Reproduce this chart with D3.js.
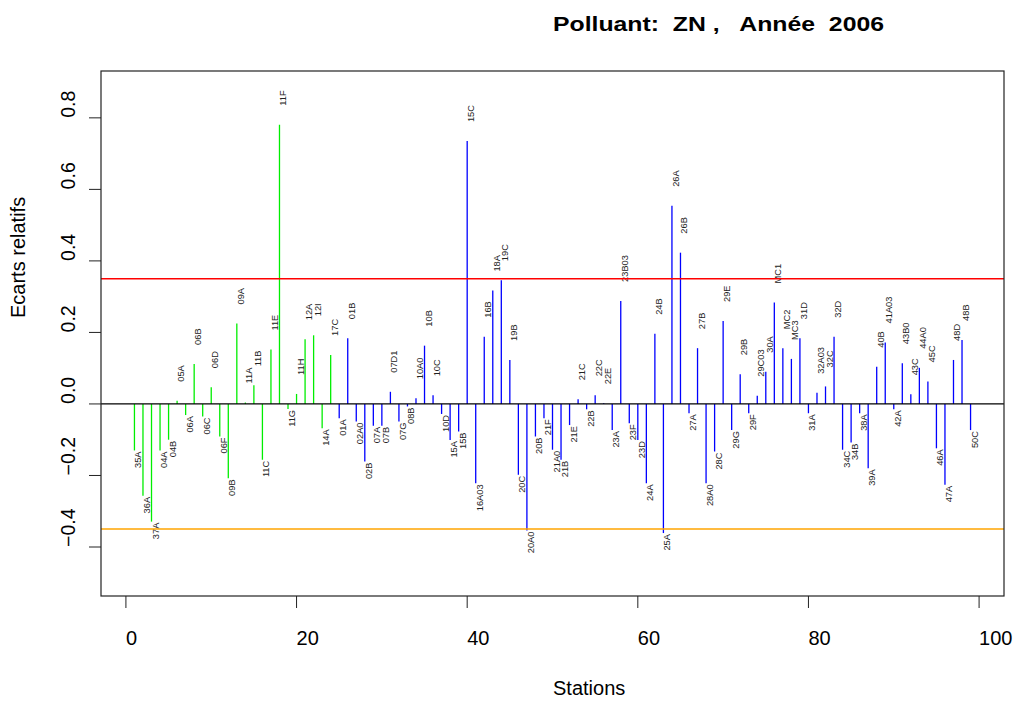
<!DOCTYPE html>
<html>
<head>
<meta charset="utf-8">
<script src="https://cdn.jsdelivr.net/npm/d3@7"></script>
<style>
  body { margin: 0; background: #fff; }
  svg { display: block; font-family: "Liberation Sans", Arial, sans-serif; }
</style>
</head>
<body>
<div id="chart"></div>
<script>
// stations, dans l'ordre du graphique
var stations = ["35A","36A","37A","04A","04B","05A","06A","06B","06C","06D",
  "06F","09B","09A","11A","11B","11C","11E","11F","11G","11H",
  "12A","12I","14A","17C","01A","01B","02A0","02B","07A","07B",
  "07D1","07G","08B","10A0","10B","10C","10D","15A","15B","15C",
  "16A03","16B","18A","19C","19B","20C","20A0","20B","21F","21A0",
  "21B","21E","21C","22B","22C","22E","23A","23B03","23F","23D",
  "24A","24B","25A","26A","26B","27A","27B","28A0","28C","29E",
  "29G","29B","29F","29C03","30A","MC1","MC2","MC3","31D","31A",
  "32A03","32C","32D","34C","34B","38A","39A","40B","41A03","42A",
  "43B0","43C","44A0","45C","46A","47A","48D","48B","50C"];

var ecarts = [-0.130,-0.257,-0.329,-0.130,-0.100,0.009,-0.031,0.112,-0.035,0.047,
  -0.091,-0.208,0.225,0.004,0.052,-0.156,0.152,0.781,-0.014,0.028,
  0.181,0.192,-0.068,0.137,-0.040,0.184,-0.049,-0.161,-0.061,-0.061,
  0.034,-0.049,-0.007,0.016,0.163,0.024,-0.028,-0.101,-0.077,0.735,
  -0.222,0.188,0.317,0.346,0.123,-0.198,-0.354,-0.091,-0.040,-0.128,
  -0.156,-0.059,0.013,-0.015,0.024,0.002,-0.073,0.288,-0.054,-0.101,
  -0.222,0.196,-0.361,0.554,0.423,-0.026,0.156,-0.222,-0.133,0.232,
  -0.073,0.083,-0.026,0.023,0.090,0.284,0.156,0.126,0.184,-0.026,
  0.031,0.049,0.188,-0.128,-0.108,-0.026,-0.180,0.104,0.172,-0.015,
  0.114,0.027,0.101,0.063,-0.124,-0.226,0.123,0.179,-0.073];

// les 24 premieres stations en vert, les autres en bleu
var nbVertes = 24;
var seuils = [0.35, -0.35];
var seuilCouleurs = ["#ff0000", "#ffa500"];
var xTicks = [0, 20, 40, 60, 80, 100];
var yTicks = [-0.4, -0.2, 0.0, 0.2, 0.4, 0.6, 0.8];

var W = 1018, H = 701;
var box = {left: 101, right: 1004, top: 71, bottom: 596};

var svg = d3.select("#chart").append("svg")
    .attr("width", W)
    .attr("height", H);

var x = d3.scaleLinear().domain([-2.92, 102.92]).range([box.left, box.right]);
var y = d3.scaleLinear().domain([-0.537, 0.931]).range([box.bottom, box.top]);

var data = stations.map(function(s, i) {
    return {id: i + 1, label: s, val: ecarts[i], col: (i < nbVertes) ? "#00ee00" : "#0000ff"};
});

// titre
svg.append("text")
    .attr("x", 553)
    .attr("y", 31)
    .attr("font-size", "19.5px")
    .attr("font-weight", "bold")
    .attr("xml:space", "preserve")
    .attr("textLength", 331)
    .attr("lengthAdjust", "spacingAndGlyphs")
    .style("white-space", "pre")
    .text("Polluant:  ZN ,   Ann\u00e9e  2006");

// barres
svg.append("g").selectAll("line.barre")
    .data(data)
    .enter().append("line")
    .attr("class", "barre")
    .attr("x1", function(d) { return x(d.id); })
    .attr("x2", function(d) { return x(d.id); })
    .attr("y1", y(0))
    .attr("y2", function(d) { return y(d.val); })
    .attr("stroke", function(d) { return d.col; })
    .attr("stroke-width", 1.3);

// etiquettes des stations
svg.append("g").selectAll("text.etiq")
    .data(data)
    .enter().append("text")
    .attr("class", "etiq")
    .attr("font-size", "9.3px")
    .attr("fill", "#222")
    .attr("text-anchor", function(d) { return d.val >= 0 ? "start" : "end"; })
    .attr("transform", function(d) {
        var ty = d.val >= 0 ? y(d.val) - 19 : y(d.val) + 1;
        return "translate(" + (x(d.id) + 7) + "," + ty + ") rotate(-90)";
    })
    .text(function(d) { return d.label; });

// ligne zero
svg.append("line")
    .attr("x1", box.left).attr("x2", box.right)
    .attr("y1", y(0)).attr("y2", y(0))
    .attr("stroke", "#000").attr("stroke-width", 1.3);

// seuils
svg.append("g").selectAll("line.seuil")
    .data(seuils)
    .enter().append("line")
    .attr("x1", box.left).attr("x2", box.right)
    .attr("y1", function(d) { return y(d); })
    .attr("y2", function(d) { return y(d); })
    .attr("stroke", function(d, i) { return seuilCouleurs[i]; })
    .attr("stroke-width", 1.5);

// cadre
svg.append("rect")
    .attr("x", box.left).attr("y", box.top)
    .attr("width", box.right - box.left)
    .attr("height", box.bottom - box.top)
    .attr("fill", "none")
    .attr("stroke", "#222")
    .attr("stroke-width", 1.2);

// axe x
var gx = svg.append("g");
gx.selectAll("line").data(xTicks).enter().append("line")
    .attr("x1", function(d) { return x(d); })
    .attr("x2", function(d) { return x(d); })
    .attr("y1", box.bottom).attr("y2", box.bottom + 12)
    .attr("stroke", "#222").attr("stroke-width", 1);
gx.selectAll("text").data(xTicks).enter().append("text")
    .attr("x", function(d) { return x(d); })
    .attr("y", 645)
    .attr("font-size", "20px")
    .text(function(d) { return d; });

// axe y
var gy = svg.append("g");
gy.selectAll("line").data(yTicks).enter().append("line")
    .attr("x1", box.left - 12).attr("x2", box.left)
    .attr("y1", function(d) { return y(d); })
    .attr("y2", function(d) { return y(d); })
    .attr("stroke", "#222").attr("stroke-width", 1);
gy.selectAll("text").data(yTicks).enter().append("text")
    .attr("font-size", "19.5px")
    .attr("transform", function(d) { return "translate(75," + y(d) + ") rotate(-90)"; })
    .text(function(d) { return d3.format(".1f")(d); });

// titres des axes
svg.append("text")
    .attr("x", 553).attr("y", 695)
    .attr("font-size", "20px")
    .text("Stations");

svg.append("text")
    .attr("font-size", "20px")
    .attr("transform", "translate(25,318) rotate(-90)")
    .text("Ecarts relatifs");
</script>
</body>
</html>
